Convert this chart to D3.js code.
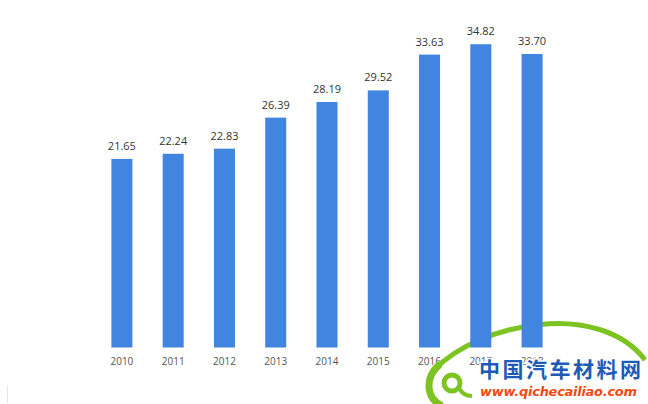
<!DOCTYPE html>
<html><head><meta charset="utf-8">
<script src="https://cdn.jsdelivr.net/npm/d3@7"></script>
<style>body{margin:0;background:#fff}svg{display:block}</style>
</head><body>
<svg id="c" width="648" height="404"></svg>
<script>
const years = ["2010","2011","2012","2013","2014","2015","2016","2017","2018"];
const values = [21.65,22.24,22.83,26.39,28.19,29.52,33.63,34.82,33.70];

const svg = d3.select("#c");
const x = d3.scaleBand().domain(years).range([96, 558]).paddingInner(0.59).paddingOuter(0.3);
const y = d3.scaleLinear().domain([0, 40]).range([347.5, 347.5 - 8.71*40]);

const font = "'Open Sans', 'Noto Sans', sans-serif";

const ax = svg.append("g").attr("transform",`translate(0,${y(0)})`)
  .call(d3.axisBottom(x).tickSize(0).tickPadding(10));
ax.select(".domain").remove();
ax.selectAll("text").attr("font-family",font)
  .attr("font-size",10).attr("fill","#555");

// watermark logo (arc part, behind bars)
const green = "#7DC422";
svg.append("path")
  .attr("d","M434,370 C480,322 600,300 645,360")
  .attr("fill","none").attr("stroke",green).attr("stroke-width",5);
svg.append("path")
  .attr("d","M440,364 C424,378 426,398 442,406")
  .attr("fill","none").attr("stroke",green).attr("stroke-width",7);
svg.append("circle").attr("cx",452).attr("cy",383).attr("r",8)
  .attr("fill","none").attr("stroke",green).attr("stroke-width",5);
svg.append("path").attr("d","M459,388 C462,394 466,396 472,396")
  .attr("fill","none").attr("stroke",green).attr("stroke-width",4);

svg.selectAll("rect.bar").data(values).join("rect")
  .attr("class","bar")
  .attr("x",(d,i)=>x(years[i]))
  .attr("width",x.bandwidth())
  .attr("y",d=>y(d))
  .attr("height",d=>y(0)-y(d))
  .attr("fill","#4285E0");

svg.selectAll("text.val").data(values).join("text")
  .attr("class","val")
  .attr("x",(d,i)=>x(years[i])+x.bandwidth()/2)
  .attr("y",d=>y(d)-9)
  .attr("text-anchor","middle")
  .attr("font-family",font)
  .attr("font-size",11)
  .attr("fill","#333")
  .text(d=>d.toFixed(2));

// faint mark bottom-left
svg.append("line").attr("x1",7.5).attr("x2",7.5).attr("y1",386).attr("y2",403)
  .attr("stroke","#e6e6e6");

// watermark logo texts
svg.append("text").attr("x",479).attr("y",377)
  .attr("font-family","'Noto Sans CJK SC', sans-serif").attr("font-weight","bold")
  .attr("font-size",21).attr("fill","#1E5BB8").attr("textLength",162)
  .attr("stroke","#fff").attr("stroke-width",3).attr("paint-order","stroke")
  .text("中国汽车材料网");
svg.append("text").attr("x",480).attr("y",396)
  .attr("font-family","'DejaVu Sans', sans-serif").attr("font-weight","bold").attr("font-style","italic")
  .attr("font-size",13).attr("fill","#F04A12").attr("textLength",157)
  .attr("stroke","#fff").attr("stroke-width",2).attr("paint-order","stroke")
  .text("www.qichecailiao.com");
</script>
</body></html>
